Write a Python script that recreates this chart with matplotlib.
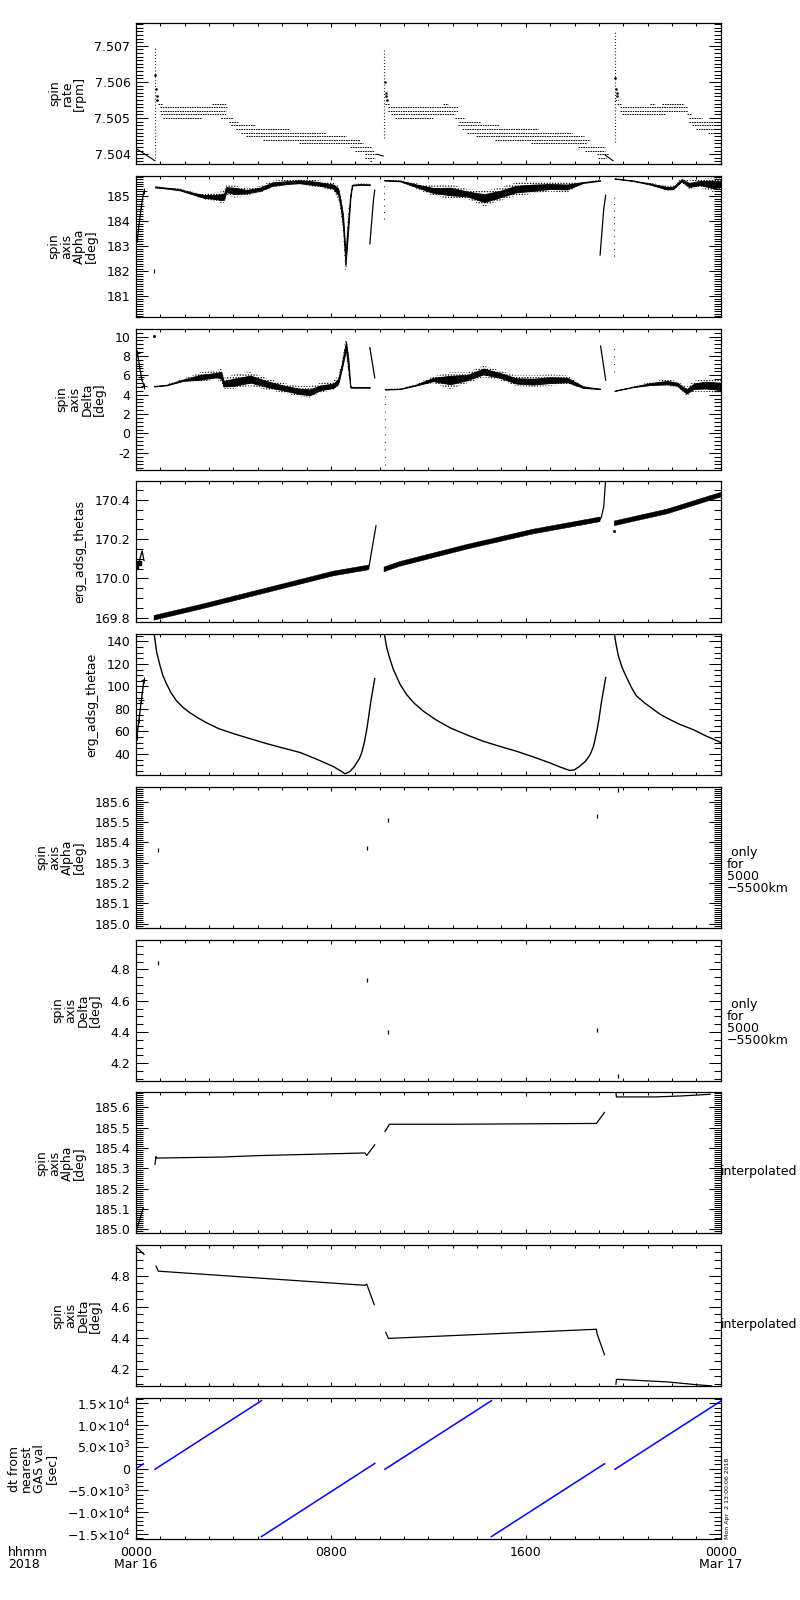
import matplotlib
matplotlib.use('Agg')
import matplotlib.pyplot as plt
import numpy as np
from matplotlib.ticker import MultipleLocator, FixedLocator, FixedFormatter, FormatStrFormatter

plt.rcParams['font.family'] = ['DejaVu Sans']
plt.rcParams['mathtext.fontset'] = 'dejavusans'
plt.rcParams['hatch.linewidth'] = 0.6

# ---------------- DATA (time in hours from 2018-03-16 00:00) ----------------
# Panel 1: spin rate, quantised levels (level, start, end)
rate_lvl = [7.5054, 7.5053, 7.5052, 7.5051, 7.5050, 7.5054, 7.5050, 7.5049, 7.5048, 7.5047,
            7.5046, 7.5045, 7.5044, 7.5043, 7.5042, 7.5041, 7.5040, 7.5039, 7.5038,
            7.5054, 7.5053, 7.5052, 7.5051, 7.5050, 7.5054, 7.5050, 7.5049, 7.5048, 7.5047,
            7.5046, 7.5045, 7.5044, 7.5043, 7.5042, 7.5041, 7.5040, 7.5039,
            7.5055, 7.5054, 7.5054, 7.5054, 7.5053, 7.5052, 7.5051, 7.5051, 7.5050, 7.5049,
            7.5048, 7.5047, 7.5046]
rate_t0 = [0.90, 1.00, 1.00, 1.03, 1.10, 3.10, 3.50, 3.80, 3.90, 4.10,
           4.30, 4.50, 5.20, 6.70, 8.80, 9.00, 9.40, 9.40, 9.60,
           10.22, 10.35, 10.35, 10.45, 10.65, 12.60, 13.10, 13.25, 13.20, 13.38,
           13.60, 13.96, 14.74, 16.20, 18.15, 18.44, 18.92, 18.96,
           19.68, 19.75, 21.10, 21.60, 19.85, 19.85, 19.95, 22.60, 22.70, 22.70,
           22.83, 23.00, 23.48]
rate_t1 = [1.07, 3.75, 3.70, 3.70, 2.70, 3.70, 4.00, 4.20, 4.90, 6.30,
           7.80, 8.60, 9.20, 9.30, 9.65, 9.75, 9.90, 9.80, 9.70,
           10.40, 13.20, 13.20, 13.10, 12.20, 12.80, 13.50, 14.10, 14.90, 16.50,
           17.90, 18.40, 18.64, 18.50, 19.25, 19.25, 19.38, 19.29,
           19.80, 19.90, 21.30, 22.50, 22.60, 22.65, 21.70, 22.80, 23.25, 24.00,
           24.00, 24.00, 24.00]
rate_line_t = [[0.0, 0.78], [9.90, 10.15], [19.25, 19.58]]
rate_line_v = [[7.50416, 7.50382], [7.50400, 7.50395], [7.50398, 7.50382]]
rate_spike_t = [0.78, 10.19, 19.66]
rate_spike_lo = [7.50390, 7.50445, 7.50435]
rate_spike_hi = [7.50693, 7.50695, 7.50743]
rate_decay_t = [0.80, 0.82, 0.85, 0.88, 10.22, 10.25, 10.28, 10.31, 19.68, 19.70, 19.73, 19.76]
rate_decay_v = [7.5062, 7.5058, 7.5056, 7.5055, 7.5060, 7.5057, 7.5056, 7.5055, 7.5061, 7.5058, 7.5057, 7.5056]

# Panel 2: spin axis alpha (scatter bands: time, centre, low, high)
alpha_c1_t = [0.78, 1.3, 1.8, 2.4, 2.8, 3.25, 3.5, 3.62, 3.7, 4.05, 4.55, 5.1, 5.6, 6.2, 6.7, 7.2, 7.55,
              8.1, 8.3, 8.4, 8.5, 8.6, 8.72, 8.8, 8.87, 9.2, 9.6]
alpha_c1_m = [185.38, 185.33, 185.27, 185.10, 185.00, 184.98, 184.98, 185.00, 185.30, 185.25, 185.20, 185.30,
              185.50, 185.55, 185.58, 185.55, 185.50, 185.40, 185.20, 184.70, 184.00, 182.50, 184.00, 185.00,
              185.45, 185.48, 185.47]
alpha_c1_lo = [185.34, 185.29, 185.22, 185.02, 184.88, 184.82, 184.72, 184.75, 185.05, 184.95, 185.05, 185.15,
               185.36, 185.45, 185.48, 185.40, 185.36, 185.23, 184.90, 184.40, 183.50, 181.90, 183.50, 184.80,
               185.42, 185.45, 185.44]
alpha_c1_hi = [185.42, 185.37, 185.32, 185.17, 185.12, 185.15, 185.20, 185.25, 185.45, 185.45, 185.32, 185.42,
               185.63, 185.68, 185.72, 185.68, 185.63, 185.56, 185.45, 185.00, 184.50, 183.00, 184.50, 185.20,
               185.50, 185.52, 185.51]
alpha_c2_t = [10.2, 10.84, 11.66, 12.2, 12.9, 13.6, 14.3, 14.95, 15.6, 16.3, 17.0, 17.7, 18.35, 19.05]
alpha_c2_m = [185.65, 185.62, 185.40, 185.25, 185.20, 185.10, 184.95, 185.10, 185.30, 185.35, 185.40, 185.40, 185.56, 185.64]
alpha_c2_lo = [185.62, 185.59, 185.24, 185.03, 184.90, 184.90, 184.60, 184.83, 185.03, 185.10, 185.20, 185.16, 185.52, 185.62]
alpha_c2_hi = [185.68, 185.65, 185.50, 185.44, 185.50, 185.30, 185.23, 185.36, 185.56, 185.60, 185.60, 185.56, 185.60, 185.66]
alpha_c3_t = [19.64, 20.4, 21.1, 21.8, 22.05, 22.4, 22.7, 23.15, 23.7, 24.0]
alpha_c3_m = [185.72, 185.63, 185.50, 185.33, 185.34, 185.65, 185.45, 185.55, 185.50, 185.50]
alpha_c3_lo = [185.70, 185.61, 185.45, 185.23, 185.25, 185.56, 185.30, 185.36, 185.17, 185.25]
alpha_c3_hi = [185.74, 185.65, 185.55, 185.43, 185.43, 185.75, 185.63, 185.70, 185.76, 185.72]
alpha_steep_t = [[0.06, 0.14, 0.22, 0.32], [9.6, 9.75, 9.8], [19.05, 19.2, 19.28]]
alpha_steep_v = [[183.3, 184.0, 184.6, 185.2], [183.1, 184.9, 185.25], [182.65, 184.5, 185.05]]
alpha_spike_t = [10.19, 19.64]
alpha_spike_lo = [184.1, 182.6]
alpha_spike_hi = [185.7, 185.0]
alpha_dot_t = [0.74]
alpha_dot_v = [181.99]

# Panel 3: spin axis delta
delta_c1_t = [0.74, 1.26, 1.94, 2.63, 3.3, 3.5, 3.6, 4.0, 4.7, 5.37, 6.05, 6.75, 7.14, 7.55, 8.1, 8.3, 8.44,
              8.62, 8.72, 8.8, 8.9, 9.6]
delta_c1_m = [4.87, 5.0, 5.5, 5.8, 6.0, 6.0, 5.1, 5.2, 5.6, 5.1, 4.7, 4.3, 4.2, 4.7, 4.9, 5.3, 6.8, 9.0, 7.0, 4.8, 4.75, 4.75]
delta_c1_lo = [4.82, 4.93, 5.35, 5.3, 5.6, 5.3, 4.6, 4.6, 4.9, 4.5, 4.2, 3.8, 3.7, 4.2, 4.5, 4.9, 6.3, 8.3, 6.0, 4.65, 4.7, 4.7]
delta_c1_hi = [4.92, 5.07, 5.65, 6.3, 6.5, 6.7, 5.7, 6.1, 6.35, 5.7, 5.2, 4.9, 4.9, 5.2, 5.4, 6.0, 7.4, 10.0, 8.3, 4.95, 4.8, 4.8]
delta_c2_t = [10.22, 10.84, 11.5, 12.2, 12.9, 13.6, 14.26, 14.94, 15.6, 16.3, 17.0, 17.7, 18.36, 19.05]
delta_c2_m = [4.55, 4.6, 5.0, 5.6, 5.6, 5.8, 6.4, 6.0, 5.4, 5.3, 5.5, 5.5, 4.8, 4.6]
delta_c2_lo = [4.5, 4.55, 4.9, 5.2, 4.55, 5.2, 5.8, 5.5, 4.9, 4.8, 4.9, 5.1, 4.6, 4.55]
delta_c2_hi = [4.6, 4.65, 5.1, 5.9, 6.3, 6.3, 7.0, 6.5, 6.0, 6.0, 6.1, 6.0, 4.9, 4.65]
delta_c3_t = [19.64, 20.4, 21.1, 21.8, 22.2, 22.6, 22.9, 23.4, 24.0]
delta_c3_m = [4.4, 4.8, 5.1, 5.25, 5.1, 4.35, 4.9, 5.0, 4.85]
delta_c3_lo = [4.35, 4.75, 4.9, 4.9, 4.8, 3.9, 4.3, 4.3, 4.1]
delta_c3_hi = [4.45, 4.85, 5.3, 5.6, 5.4, 4.8, 5.4, 5.7, 5.6]
delta_steep_t = [[0.06, 0.14, 0.22, 0.32], [9.6, 9.8], [19.07, 19.28]]
delta_steep_v = [[8.3, 7.0, 5.8, 4.9], [8.86, 5.74], [9.03, 5.5]]
delta_spike_t = [10.22, 19.64]
delta_spike_lo = [-3.3, 6.3]
delta_spike_hi = [4.5, 9.2]
delta_dot_t = [0.74]
delta_dot_v = [10.07]

# Panel 4: erg_adsg_thetas (band centre)
thetas_t = [[0.74, 2.63, 5.37, 8.1, 9.55], [10.18, 10.84, 13.56, 16.3, 19.05], [19.64, 21.8, 24.0]]
thetas_v = [[169.80, 169.855, 169.94, 170.025, 170.056], [170.046, 170.074, 170.16, 170.238, 170.30],
            [170.28, 170.34, 170.425]]
thetas_line_t = [[0.02, 0.12, 0.25, 0.33], [9.55, 9.75, 9.85], [19.05, 19.1, 19.2, 19.27]]
thetas_line_v = [[170.06, 170.08, 170.14, 170.09], [170.05, 170.195, 170.267], [170.30, 170.31, 170.365, 170.49]]
thetas_dot_t = [19.64]
thetas_dot_v = [170.24]

# Panel 5: erg_adsg_thetae
thetae_t = [[0.03, 0.12, 0.22, 0.33],
            [0.75, 0.85, 0.99, 1.1, 1.26, 1.45, 1.67, 1.95, 2.22, 2.55, 2.9, 3.4, 4.0, 4.7, 5.37, 6.0, 6.73,
             7.4, 8.1, 8.4, 8.58, 8.78, 8.95, 9.05, 9.17, 9.26, 9.37, 9.47, 9.55, 9.63, 9.72, 9.8],
            [10.2, 10.29, 10.4, 10.56, 10.84, 11.1, 11.4, 11.8, 12.3, 12.9, 13.6, 14.26, 14.9, 15.64, 16.3,
             17.0, 17.4, 17.8, 18.0, 18.2, 18.45, 18.64, 18.78, 18.9, 19.0, 19.1, 19.2, 19.28],
            [19.64, 19.7, 19.8, 19.95, 20.14, 20.35, 20.55, 20.9, 21.24, 21.5, 21.78, 22.3, 22.87, 23.4, 24.0]]
thetae_v = [[55, 70, 88, 106],
            [146, 130.2, 118.2, 110, 101.9, 94, 87.0, 81, 76.6, 72, 67.7, 62.5, 58.1, 53.5, 49.2, 45.5, 41.4,
             35.5, 28.9, 25, 22.4, 24.5, 28.5, 32, 36, 40.9, 50, 61.7, 73, 85.5, 97, 107],
            [146, 134.6, 126, 115.3, 101.9, 93, 85.5, 78, 70.5, 63.2, 56.8, 51.3, 47, 42.3, 37.5,
             32, 28.5, 25.4, 26, 28.9, 33.5, 39.4, 47, 58.7, 70.5, 85.5, 98, 107.9],
            [146, 138, 127.1, 117, 107.9, 98.5, 91.4, 85, 79.6, 75.5, 72.1, 66.5, 61.7, 56, 50.4]]

# Panels 6/7: spin axis only for 5000-5500 km
alpha_only_t = [0.92, 9.47, 10.33, 18.91, 19.80]
alpha_only_v = [185.36, 185.37, 185.51, 185.53, 185.655]
delta_only_t = [0.92, 9.47, 10.33, 18.91, 19.80]
delta_only_v = [4.84, 4.73, 4.40, 4.41, 4.12]

# Panel 8: interpolated alpha
alpha_int_t = [[0.03, 0.30], [0.78, 0.82, 0.85, 3.5, 5.0, 7.0, 9.4, 9.47, 9.8],
               [10.22, 10.4, 13.0, 18.9, 19.23], [19.7, 19.72, 19.8, 21.3, 22.4, 23.56]]
alpha_int_v = [[185.0, 185.106], [185.32, 185.357, 185.35, 185.355, 185.362, 185.368, 185.375, 185.363, 185.415],
               [185.48, 185.516, 185.516, 185.52, 185.574], [185.67, 185.65, 185.65, 185.65, 185.655, 185.663]]

# Panel 9: interpolated delta
delta_int_t = [[0.03, 0.33], [0.82, 0.92, 9.4, 9.47, 9.78], [10.25, 10.36, 18.9, 18.92, 19.23],
               [19.7, 19.72, 19.8, 21.8, 23.0, 23.63]]
delta_int_v = [[4.98, 4.936], [4.86, 4.828, 4.737, 4.745, 4.612], [4.434, 4.395, 4.454, 4.428, 4.29],
               [4.10, 4.131, 4.131, 4.115, 4.097, 4.089]]

# Panel 10: dt from nearest GAS value [sec]
dt_t = [[0.0, 0.30], [0.78, 5.15], [5.15, 9.80], [10.22, 14.59], [14.59, 19.23], [19.66, 24.0]]
dt_v = [[0, 1080], [-140, 15590], [-15590, 1190], [-140, 15590], [-15590, 1110], [-140, 15480]]
dt_ticks = [-15000, -10000, -5000, 0, 5000, 10000, 15000]
dt_labels = ['\u22121.5\u00d710$^{4}$', '\u22121.0\u00d710$^{4}$', '\u22125.0\u00d710$^{3}$', '0',
             '5.0\u00d710$^{3}$', '1.0\u00d710$^{4}$', '1.5\u00d710$^{4}$']

x_ticks = [0, 8, 16, 24]
x_labels = ['0000\nMar 16', '0800', '1600', '0000\nMar 17']

ylabels = ['spin\nrate\n[rpm]', 'spin\naxis\nAlpha\n[deg]', 'spin\naxis\nDelta\n[deg]', 'erg_adsg_thetas',
           'erg_adsg_thetae', 'spin\naxis\nAlpha\n[deg]', 'spin\naxis\nDelta\n[deg]', 'spin\naxis\nAlpha\n[deg]',
           'spin\naxis\nDelta\n[deg]', 'dt from\nnearest\nGAS val\n[sec]']

# ---------------- LAYOUT ----------------
W, H = 800, 1600
fig = plt.figure(figsize=(8, 16), dpi=100)
left_px, right_px = 136, 720.7
top0, step, ph = 23, 152.78, 141
axes = []
for i in range(10):
    top = top0 + step * i
    ax = fig.add_axes([left_px / W, 1 - (top + ph) / H, (right_px - left_px) / W, ph / H])
    axes.append(ax)

yspec = [  # ymin, ymax, major, minor, fmt
    (7.50373, 7.50763, 0.001, 0.0001, '%.3f'),
    (180.17, 185.83, 1, 0.1, '%d'),
    (-3.73, 10.83, 2, 0.4, '%d'),
    (169.777, 170.493, 0.2, 0.05, '%.1f'),
    (21.25, 146.5, 20, 5, '%d'),
    (184.98, 185.672, 0.1, 0.01, '%.1f'),
    (4.089, 4.99, 0.2, 0.05, '%.1f'),
    (184.98, 185.672, 0.1, 0.01, '%.1f'),
    (4.087, 4.995, 0.2, 0.05, '%.1f'),
    (-16150, 16200, 5000, 1000, None),
]

for i, ax in enumerate(axes):
    ymin, ymax, mj, mn, fmt = yspec[i]
    ax.set_xlim(0, 24)
    ax.set_ylim(ymin, ymax)
    ax.xaxis.set_major_locator(FixedLocator(x_ticks))
    ax.xaxis.set_minor_locator(MultipleLocator(1))
    if fmt is not None:
        ax.yaxis.set_major_locator(MultipleLocator(mj))
        ax.yaxis.set_major_formatter(FormatStrFormatter(fmt))
    else:
        ax.yaxis.set_major_locator(FixedLocator(dt_ticks))
        ax.yaxis.set_major_formatter(FixedFormatter(dt_labels))
    ax.yaxis.set_minor_locator(MultipleLocator(mn))
    ax.tick_params(which='both', direction='in', top=True, right=True, width=0.75, labelsize=9, pad=4)
    ax.tick_params(axis='x', which='major', length=3)
    ax.tick_params(axis='x', which='minor', length=2)
    ax.tick_params(axis='y', which='major', length=8.5)
    ax.tick_params(axis='y', which='minor', length=5)
    for s in ax.spines.values():
        s.set_linewidth(0.9)
    ax.set_ylabel(ylabels[i], fontsize=9, linespacing=0.95, labelpad=6)
    if i < 9:
        ax.set_xticklabels([])
    else:
        ax.set_xticklabels(x_labels)
        for lbl in ax.get_xticklabels():
            lbl.set_linespacing(0.95)
        ax.tick_params(axis='x', pad=5)

K = 'black'

# Panel 1
ax = axes[0]
ax.hlines(rate_lvl, rate_t0, rate_t1, colors=K, linewidth=0.7, linestyles=(0, (1.6, 0.9)))
for t, v in zip(rate_line_t, rate_line_v):
    ax.plot(t, v, color=K, lw=0.8)
ax.vlines(rate_spike_t, rate_spike_lo, rate_spike_hi, colors=K, linewidth=0.8, linestyles=(0, (0.8, 2.0)))
ax.plot(rate_decay_t, rate_decay_v, ls='none', marker='s', ms=0.8, color=K)


def band(ax, t, m, lo, hi):
    t = np.asarray(t); m = np.asarray(m); lo = np.asarray(lo); hi = np.asarray(hi)
    ax.fill_between(t, lo, hi, facecolor='none', edgecolor=K, hatch='......', linewidth=0)
    ax.fill_between(t, m - 0.5 * (m - lo), m + 0.5 * (hi - m), color=K, linewidth=0.6)


# Panel 2
ax = axes[1]
band(ax, alpha_c1_t, alpha_c1_m, alpha_c1_lo, alpha_c1_hi)
band(ax, alpha_c2_t, alpha_c2_m, alpha_c2_lo, alpha_c2_hi)
band(ax, alpha_c3_t, alpha_c3_m, alpha_c3_lo, alpha_c3_hi)
for t, v in zip(alpha_steep_t, alpha_steep_v):
    ax.plot(t, v, color=K, lw=0.9)
ax.plot(alpha_steep_t[0], alpha_steep_v[0], ls='none', marker='+', ms=4, mew=0.7, color=K)
ax.vlines(alpha_spike_t, alpha_spike_lo, alpha_spike_hi, colors=K, linewidth=0.8, linestyles=(0, (0.8, 5)))
ax.plot(alpha_dot_t, alpha_dot_v, ls='none', marker='|', ms=3, mew=0.8, color=K)

# Panel 3
ax = axes[2]
band(ax, delta_c1_t, delta_c1_m, delta_c1_lo, delta_c1_hi)
band(ax, delta_c2_t, delta_c2_m, delta_c2_lo, delta_c2_hi)
band(ax, delta_c3_t, delta_c3_m, delta_c3_lo, delta_c3_hi)
for t, v in zip(delta_steep_t, delta_steep_v):
    ax.plot(t, v, color=K, lw=0.9)
ax.plot(delta_steep_t[0], delta_steep_v[0], ls='none', marker='+', ms=4, mew=0.7, color=K)
ax.vlines(delta_spike_t, delta_spike_lo, delta_spike_hi, colors=K, linewidth=0.8, linestyles=(0, (0.8, 6)))
ax.plot(delta_dot_t, delta_dot_v, ls='none', marker='s', ms=1, color=K)

# Panel 4
ax = axes[3]
for t, v in zip(thetas_t, thetas_v):
    t = np.asarray(t); v = np.asarray(v)
    ax.fill_between(t, v - 0.012, v + 0.012, facecolor=K, edgecolor=K, hatch='||||', linewidth=0.3)
for t, v in zip(thetas_line_t, thetas_line_v):
    ax.plot(t, v, color=K, lw=0.9)
ax.plot(thetas_line_t[0][:2], thetas_line_v[0][:2], ls='none', marker='s', ms=3, color=K)
ax.plot(thetas_dot_t, thetas_dot_v, ls='none', marker='s', ms=1, color=K)

# Panel 5
ax = axes[4]
for t, v in zip(thetae_t, thetae_v):
    ax.plot(t, v, color=K, lw=1.0)
ax.plot(thetae_t[0], thetae_v[0], ls='none', marker='+', ms=4, mew=0.7, color=K)

# Panels 6, 7
axes[5].plot(alpha_only_t, alpha_only_v, ls='none', marker='|', ms=3, mew=0.9, color=K)
axes[6].plot(delta_only_t, delta_only_v, ls='none', marker='|', ms=3, mew=0.9, color=K)
for ax in (axes[5], axes[6]):
    ax.text(1.01, 0.41, ' only\nfor\n5000\n\u22125500km', transform=ax.transAxes, ha='left', va='center',
            fontsize=9, linespacing=0.9)

# Panels 8, 9
for t, v in zip(alpha_int_t, alpha_int_v):
    axes[7].plot(t, v, color=K, lw=0.9)
for t, v in zip(delta_int_t, delta_int_v):
    axes[8].plot(t, v, color=K, lw=0.9)
for ax in (axes[7], axes[8]):
    ax.text(1.0, 0.44, 'interpolated', transform=ax.transAxes, ha='left', va='center', fontsize=9)

# Panel 10
ax = axes[9]
for t, v in zip(dt_t, dt_v):
    ax.plot(t, v, color='#0000ff', lw=1.1)
ax.text(1.008, 0.0, 'Mon Apr  2 13:00:06 2018', transform=ax.transAxes, rotation=90,
        ha='left', va='bottom', fontsize=4.5)

fig.text(8 / W, 1 - 1546 / H, 'hhmm\n2018', ha='left', va='top', fontsize=9, linespacing=0.95)

fig.savefig('out.png', dpi=100)
